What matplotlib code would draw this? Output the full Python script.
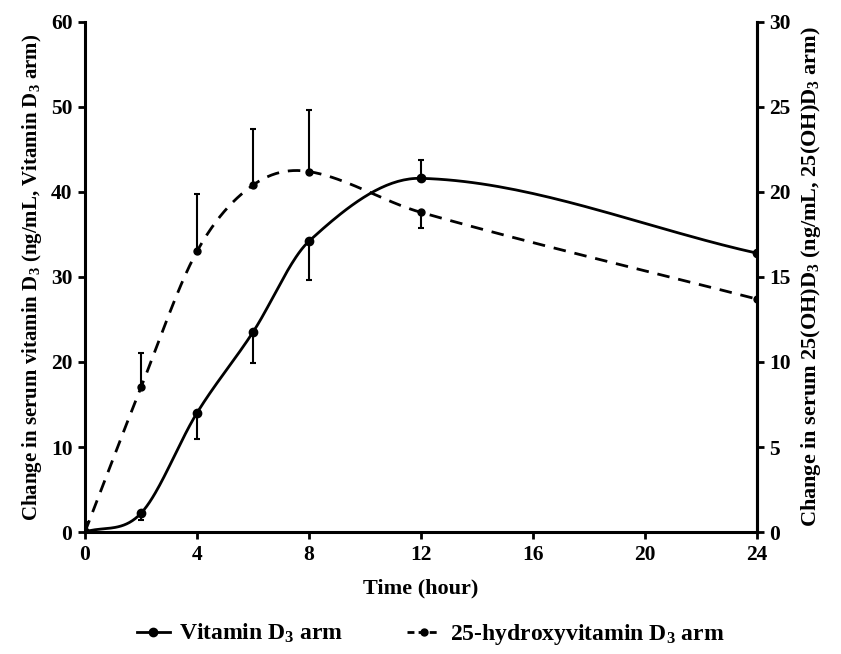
import numpy as np
import matplotlib
matplotlib.use("Agg")
import matplotlib.pyplot as plt
from matplotlib.lines import Line2D

plt.rcParams['font.family'] = ['Liberation Serif', 'DejaVu Serif']
plt.rcParams['font.weight'] = 'bold'
plt.rcParams['axes.labelweight'] = 'bold'
plt.rcParams['mathtext.fontset'] = 'custom'
plt.rcParams['mathtext.rm'] = 'Liberation Serif:bold'
plt.rcParams['mathtext.default'] = 'rm'

# data
hours = [0, 2, 4, 6, 8, 12, 24]
vitd3 = [0, 2.2, 14.0, 23.5, 34.2, 41.6, 32.8]          # left axis
vitd3_err_lo = [0, 0.8, 3.1, 3.6, 4.5, 0, 0]
vitd3_err_hi = [0, 0, 0, 0, 0, 2.2, 0]
ohd3 = [0, 8.5, 16.5, 20.4, 21.2, 18.8, 13.7]           # right axis
ohd3_err_lo = [0, 0, 0, 0, 0, 0.9, 0]
ohd3_err_hi = [0.6, 2.0, 3.4, 3.3, 3.6, 0, 0]


def smooth(x, y, n=40):
    # smoothed line through the points: cubic Hermite, Catmull-Rom style slopes
    x = np.asarray(x, float)
    y = np.asarray(y, float)
    m = np.zeros_like(y)
    m[1:-1] = (y[2:] - y[:-2]) / (x[2:] - x[:-2])
    m[0] = (y[1] - y[0]) / (x[1] - x[0])
    m[-1] = (y[-1] - y[-2]) / (x[-1] - x[-2])
    t = np.linspace(0, 1, n)
    xs, ys = [], []
    for i in range(len(x) - 1):
        h = x[i + 1] - x[i]
        h00 = 2 * t**3 - 3 * t**2 + 1
        h10 = t**3 - 2 * t**2 + t
        h01 = -2 * t**3 + 3 * t**2
        h11 = t**3 - t**2
        seg = h00 * y[i] + h10 * h * m[i] + h01 * y[i + 1] + h11 * h * m[i + 1]
        xs.append(x[i] + t * h)
        ys.append(seg)
    return np.concatenate(xs), np.concatenate(ys)


fig = plt.figure(figsize=(8.41, 6.54), dpi=100)
ax = fig.add_axes([0.101, 0.1865, 0.799, 0.78])
ax2 = ax.twinx()

lw = 2.0
sx, sy = smooth(hours, vitd3)
ax.plot(sx, sy, color='black', lw=lw, solid_capstyle='round')
ax.errorbar(hours, vitd3, yerr=[vitd3_err_lo, vitd3_err_hi], fmt='o', color='black',
            ms=6, elinewidth=1.5, capsize=2.5, capthick=1.5)

dx, dy = smooth(hours, ohd3)
ax2.plot(dx, dy, color='black', lw=lw, dashes=(4.5, 3.2))
ax2.errorbar(hours, ohd3, yerr=[ohd3_err_lo, ohd3_err_hi], fmt='o', color='black',
             ms=5, elinewidth=1.5, capsize=2.5, capthick=1.5)

ax.set_xlim(0, 24)
ax.set_ylim(0, 60)
ax2.set_ylim(0, 30)
ax.set_xticks([0, 4, 8, 12, 16, 20, 24])
ax.set_yticks(range(0, 61, 10))
ax2.set_yticks(range(0, 31, 5))

for a in (ax, ax2):
    a.spines['top'].set_visible(False)
    for s in a.spines.values():
        s.set_linewidth(2.2)
    a.tick_params(width=2, length=5, labelsize=15.5, pad=4)
ax2.spines['left'].set_visible(False)
ax2.spines['bottom'].set_visible(False)

ax.set_xlabel('Time (hour)', fontsize=16, labelpad=10)
ax.set_ylabel(r'Change in serum vitamin D$_3$ (ng/mL, Vitamin D$_3$ arm)', fontsize=15, labelpad=5)
ax2.set_ylabel(r'Change in serum 25(OH)D$_3$ (ng/mL, 25(OH)D$_3$ arm)', fontsize=16,
               rotation=90, labelpad=6)

h1 = Line2D([], [], color='black', lw=lw, marker='o', ms=6)
h2 = Line2D([], [], color='black', lw=lw, dashes=(2.5, 1.5), marker='o', ms=5)
fig.legend([h1, h2], [r'Vitamin D$_3$ arm', r'25-hydroxyvitamin D$_3$ arm'],
           loc='center', bbox_to_anchor=(0.512, 0.03), ncol=2, frameon=False,
           fontsize=17, handlelength=1.4, columnspacing=2.7, handletextpad=0.4)

fig.savefig('out.png', dpi=100)
